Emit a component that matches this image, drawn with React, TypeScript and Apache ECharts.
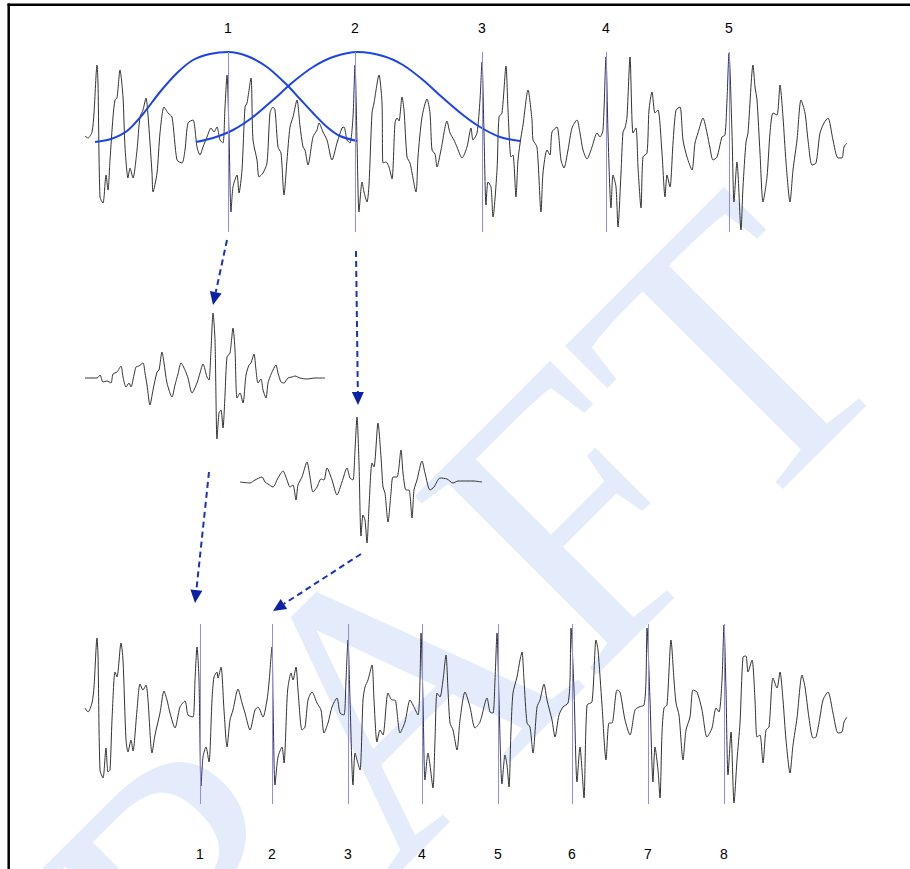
import React, { useEffect, useRef } from "react";
import * as echarts from "echarts";

// time axis: samples (0..763), amplitude axis: -90..90
const TOP_WAVE: [number, number][] = [
  [0,6],[3,4],[7,10],[9,29],[12,77],[13,59],[15,-55],[18,-61],[21,-33],[23,-48],[25,-18],[28,25],[30,42],[32,44],[35,72],[38,45],[40,-5],[43,-36],[45,-26],[48,-36],[52,-8],[55,25],[58,32],[61,44],[63,27],[67,-31],[68,-50],[72,-31],[75,9],[79,35],[83,29],[87,25],[92,-18],[97,-21],[100,-8],[103,19],[108,22],[112,-5],[115,-13],[118,-5],[122,5],[126,14],[129,10],[132,15],[135,2],[138,-1],[140,35],[142,67],[144,9],[146,-70],[148,-45],[152,-33],[154,-51],[157,-28],[160,35],[162,39],[166,64],[168,2],[172,-18],[174,-35],[178,-31],[182,-21],[185,29],[188,35],[190,32],[193,-5],[196,-11],[199,-53],[202,-18],[205,15],[208,25],[212,42],[215,16],[218,-5],[220,-8],[223,-23],[228,5],[232,12],[234,19],[238,10],[242,2],[247,-18],[252,-1],[257,14],[259,15],[262,2],[265,-1],[268,25],[270,77],[272,2],[274,-70],[277,-40],[279,-50],[282,-60],[284,-43],[287,29],[289,39],[294,67],[297,39],[298,-21],[301,-20],[304,-25],[307,-37],[310,19],[312,24],[314,21],[317,45],[319,32],[322,-15],[325,-21],[331,-50],[333,-15],[337,25],[342,43],[345,29],[347,-8],[350,-12],[352,-25],[356,-8],[362,21],[365,9],[369,2],[372,-5],[377,-16],[382,-5],[386,14],[388,2],[392,9],[395,42],[397,80],[399,9],[401,-63],[403,-40],[406,-45],[408,-75],[412,-28],[414,25],[417,29],[421,76],[423,32],[426,-15],[428,-13],[431,-55],[433,-18],[436,5],[438,17],[443,52],[447,22],[448,2],[452,-5],[456,-70],[458,-31],[462,-8],[465,-13],[467,10],[472,15],[476,-18],[479,-26],[483,-8],[487,14],[492,22],[495,9],[498,-8],[502,-17],[507,-5],[512,9],[515,5],[518,12],[521,85],[523,9],[526,-66],[528,-33],[531,-45],[533,-85],[536,-31],[538,10],[540,14],[542,25],[545,85],[548,9],[551,14],[553,-25],[556,-66],[558,-15],[562,-11],[564,32],[567,50],[570,29],[573,32],[577,-11],[580,-55],[582,-33],[585,-45],[588,-1],[591,32],[595,35],[598,2],[602,-15],[607,-28],[610,-1],[613,9],[618,24],[622,9],[625,-6],[628,-18],[632,-15],[637,5],[640,7],[642,42],[644,89],[647,9],[649,-60],[652,-20],[653,-31],[656,-88],[658,-45],[661,0],[663,9],[668,77],[670,55],[672,42],[675,-11],[678,-60],[682,-35],[685,9],[688,29],[692,27],[695,57],[698,25],[701,-20],[705,-60],[708,-28],[712,2],[716,42],[720,29],[723,2],[727,-23],[731,-21],[735,9],[739,19],[743,24],[748,2],[753,-16],[757,-16],[759,-5],[762,-1]
];

const WINDOW_1: [number, number][] = [
  [10,0],[26,3],[42,11],[58,28],[75,50],[92,69],[108,82],[125,88],[143,90],[162,86],[182,75],[202,57],[215,43],[228,29],[242,15],[255,6],[272,1]
];

const WINDOW_2: [number, number][] = [
  [111,0],[128,4],[148,12],[168,25],[188,42],[208,60],[228,75],[248,85],[273,90],[298,86],[318,77],[338,62],[358,44],[378,27],[395,15],[415,5],[435,1]
];

const SEGMENT_1: [number, number][] = [
  [0,0],[12,0],[15,3],[18,-4],[22,-3],[26,-5],[28,4],[32,6],[36,12],[38,1],[41,-9],[44,-5],[46,-9],[49,3],[51,11],[54,12],[58,15],[60,5],[62,-7],[65,-27],[68,-12],[72,6],[74,8],[77,26],[79,15],[82,-5],[87,-19],[90,-7],[93,4],[96,15],[100,8],[103,0],[107,-15],[112,-5],[115,5],[118,14],[122,1],[124,-2],[126,28],[128,65],[130,38],[132,-61],[134,-35],[136,-32],[138,-50],[140,-17],[142,21],[145,25],[148,50],[150,28],[152,-20],[155,-15],[158,-25],[161,3],[164,13],[166,15],[169,24],[171,8],[173,-5],[176,-1],[178,-12],[181,-20],[183,-5],[185,1],[188,8],[191,13],[193,5],[196,-4],[199,-5],[203,0],[207,1],[210,2],[215,0],[222,-1],[230,0],[240,0]
];

const SEGMENT_2: [number, number][] = [
  [155,0],[165,-1],[170,2],[177,5],[180,0],[183,-2],[188,-5],[193,4],[198,11],[202,2],[205,-5],[208,-3],[211,-18],[213,-3],[217,5],[222,20],[225,5],[228,-10],[232,-5],[236,3],[239,2],[242,14],[247,2],[252,-13],[257,0],[262,14],[265,4],[268,2],[270,32],[272,65],[274,19],[276,-54],[278,-33],[280,-38],[282,-61],[284,-25],[287,19],[289,15],[293,59],[296,25],[298,-5],[300,-11],[303,-40],[306,-11],[308,5],[312,5],[316,32],[318,9],[321,-8],[324,-8],[327,-36],[329,-8],[332,2],[337,21],[340,9],[345,-8],[349,-5],[355,4],[362,3],[368,-1],[373,1],[378,1],[388,1],[397,0]
];

const BOTTOM_WAVE: [number, number][] = [
  [0,6],[3,2],[7,11],[9,27],[12,76],[13,59],[15,-56],[18,-64],[21,-34],[23,-58],[25,-56],[27,-6],[30,42],[32,37],[36,71],[38,54],[41,-26],[43,-38],[46,-26],[48,-37],[52,4],[55,30],[58,24],[61,29],[63,14],[67,-39],[70,-21],[75,1],[79,23],[82,14],[85,1],[90,-14],[95,7],[100,13],[103,-1],[108,-3],[110,34],[112,67],[114,34],[116,-72],[118,-43],[121,-33],[124,-48],[127,14],[129,37],[132,42],[133,36],[136,47],[139,4],[142,-33],[145,-6],[148,4],[153,25],[157,11],[160,1],[165,-16],[170,4],[173,7],[178,-3],[182,14],[184,31],[187,67],[188,14],[190,-71],[193,-43],[197,-33],[199,-49],[202,14],[203,27],[206,41],[208,34],[211,47],[213,24],[217,-16],[220,-13],[223,14],[227,22],[232,11],[236,4],[239,-19],[243,-9],[247,7],[252,16],[255,1],[259,-1],[261,34],[263,74],[265,14],[268,-71],[270,-39],[272,-46],[275,-56],[278,14],[280,27],[283,34],[287,49],[289,14],[292,-28],[295,-16],[298,-21],[303,21],[307,14],[310,14],[315,-19],[320,-8],[325,14],[328,9],[333,-1],[335,34],[336,81],[338,14],[340,-66],[343,-39],[345,-51],[348,-74],[350,-26],[352,21],[355,17],[358,34],[361,59],[363,24],[365,-9],[368,-16],[372,-36],[375,-6],[380,22],[385,7],[390,-14],[395,-8],[402,16],[405,2],[408,1],[410,34],[412,81],[414,14],[417,-70],[420,-41],[422,-51],[424,-73],[426,-16],[428,21],[432,37],[435,54],[437,62],[439,34],[442,-9],[445,-13],[448,-39],[452,7],[455,14],[459,30],[462,14],[467,-6],[470,-23],[474,-1],[478,7],[483,11],[485,34],[486,86],[489,24],[492,-68],[495,-33],[497,-56],[499,-84],[502,9],[507,12],[511,74],[513,64],[517,9],[521,-46],[524,-9],[527,-9],[532,24],[535,22],[540,-6],[545,-21],[550,4],[554,7],[559,9],[561,34],[562,86],[565,14],[568,-68],[570,-33],[573,-56],[575,-84],[577,-19],[579,6],[582,9],[586,74],[589,34],[591,11],[594,-1],[598,-46],[601,-16],[605,-3],[608,24],[612,22],[617,4],[622,-23],[627,-14],[631,6],[634,2],[637,34],[639,89],[641,24],[643,-61],[646,-18],[649,-89],[652,-46],[655,-9],[658,57],[661,58],[663,42],[667,54],[670,14],[672,-23],[675,-21],[678,-49],[681,-16],[684,-13],[688,36],[692,26],[695,42],[698,14],[701,-26],[705,-59],[708,-31],[712,-4],[717,39],[720,27],[724,-4],[728,-24],[731,-23],[735,-3],[738,14],[743,22],[748,1],[753,-19],[757,-18],[759,-8],[762,-3]
];

const TOP_MARKS = [143, 270, 397, 521, 644];
const TOP_LABELS = ["1", "2", "3", "4", "5"];
const BOTTOM_MARKS = [115, 187, 263, 337, 413, 487, 563, 639];
const BOTTOM_LABELS = ["1", "2", "3", "4", "5", "6", "7", "8"];

const WAVE_COLOR = "#333333";
const MARK_COLOR = "#8c8cff";
const WINDOW_COLOR = "#1a44e6";

function markLine(marks: number[], labels: string[], pos: "start" | "end", dist: number) {
  return {
    silent: true,
    symbol: ["none", "none"],
    animation: false,
    lineStyle: { color: MARK_COLOR, width: 1, type: "solid" },
    label: {
      show: true,
      position: pos,
      distance: dist,
      formatter: "{b}",
      color: "#000",
      fontSize: 14,
      fontFamily: "Liberation Sans, Arial, sans-serif",
    },
    emphasis: { disabled: true },
    data: marks.map((t, i) => [
      { coord: [t, -90], name: labels[i] },
      { coord: [t, 90] },
    ]),
  };
}

export default function App() {
  const ref = useRef<HTMLDivElement>(null);
  useEffect(() => {
    document.body.style.margin = "0";
    const chart = echarts.init(ref.current!, null, { renderer: "svg" });
    const gridTops = [52, 288, 392, 624];
    const grids = gridTops.map((top) => ({ left: 85, width: 763, top, height: 180 }));
    const xAxes = gridTops.map((_, i) => ({ type: "value", gridIndex: i, min: 0, max: 763, show: false }));
    const yAxes = gridTops.map((_, i) => ({ type: "value", gridIndex: i, min: -90, max: 90, show: false }));
    const waveSeries = (data: [number, number][], gi: number, extra: any = {}) => ({
      type: "line",
      xAxisIndex: gi,
      yAxisIndex: gi,
      data,
      showSymbol: false,
      symbol: "none",
      clip: false,
      silent: true,
      smooth: 0.25,
      lineStyle: { color: WAVE_COLOR, width: 1 },
      z: 3,
      ...extra,
    });
    chart.setOption({
      animation: false,
      grid: grids,
      xAxis: xAxes,
      yAxis: yAxes,
      series: [
        waveSeries(TOP_WAVE, 0, { markLine: markLine(TOP_MARKS, TOP_LABELS, "end", 17) }),
        waveSeries(WINDOW_1, 0, { smooth: 0.3, lineStyle: { color: WINDOW_COLOR, width: 2 }, z: 4 }),
        waveSeries(WINDOW_2, 0, { smooth: 0.3, lineStyle: { color: WINDOW_COLOR, width: 2 }, z: 4 }),
        waveSeries(SEGMENT_1, 1),
        waveSeries(SEGMENT_2, 2),
        waveSeries(BOTTOM_WAVE, 3, { markLine: markLine(BOTTOM_MARKS, BOTTOM_LABELS, "start", 43) }),
      ],
    });

    const px = (g: number, p: number[]) => chart.convertToPixel({ gridIndex: g }, p) as number[];
    const arrowDefs = [
      { from: [0, 142, -98], to: [1, 128, 73] },
      { from: [0, 271, -109], to: [2, 273, 77] },
      { from: [1, 124, -94], to: [3, 110, 111] },
      { from: [2, 276, -72], to: [3, 188, 103] },
    ];
    const arrows: any[] = [];
    arrowDefs.forEach((a) => {
      const p0 = px(a.from[0], [a.from[1], a.from[2]]);
      const p1 = px(a.to[0], [a.to[1], a.to[2]]);
      const dx = p1[0] - p0[0];
      const dy = p1[1] - p0[1];
      const L = Math.hypot(dx, dy);
      const ux = dx / L;
      const uy = dy / L;
      const hl = 13;
      const hw = 6;
      const bx = p1[0] - ux * hl;
      const by = p1[1] - uy * hl;
      arrows.push({
        type: "line",
        silent: true,
        z: 10,
        shape: { x1: p0[0], y1: p0[1], x2: bx, y2: by },
        style: { stroke: "#1733b8", lineWidth: 2, lineDash: [6, 4] },
      });
      arrows.push({
        type: "polygon",
        silent: true,
        z: 10,
        shape: { points: [[p1[0], p1[1]], [bx - uy * hw, by + ux * hw], [bx + uy * hw, by - ux * hw]] },
        style: { fill: "#0b22a6" },
      });
    });

    chart.setOption({
      graphic: [
        {
          type: "text",
          silent: true,
          z: -10,
          x: 364,
          y: 722,
          rotation: Math.PI / 4,
          style: {
            text: "DRAFT",
            fontSize: 390,
            fontFamily: "Liberation Serif, Times New Roman, serif",
            fill: "#e4ecfc",
            align: "center",
            verticalAlign: "middle",
          },
        },
        {
          type: "line",
          silent: true,
          z: 20,
          shape: { x1: 7.5, y1: 4.7, x2: 910, y2: 4.7 },
          style: { stroke: "#000", lineWidth: 2.5 },
        },
        {
          type: "line",
          silent: true,
          z: 20,
          shape: { x1: 8.7, y1: 3.5, x2: 8.7, y2: 869 },
          style: { stroke: "#000", lineWidth: 2.5 },
        },
        ...arrows,
      ],
    });
    return () => chart.dispose();
  }, []);
  return <div ref={ref} style={{ width: 910, height: 869 }} />;
}
